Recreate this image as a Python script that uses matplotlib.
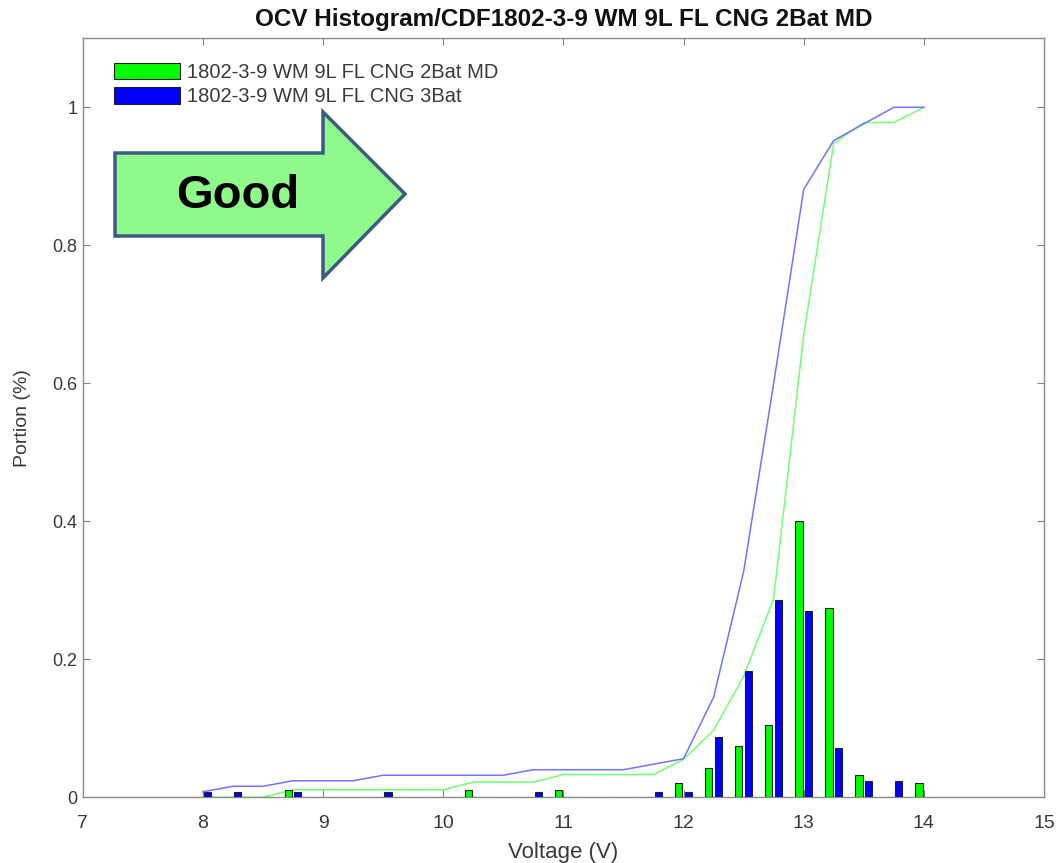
import numpy as np
import matplotlib
matplotlib.use("Agg")
import matplotlib.pyplot as plt
from matplotlib.patches import Polygon

plt.rcParams['font.family'] = ['Liberation Sans', 'DejaVu Sans']

# histogram bin centres (V)
centers = [8.0, 8.25, 8.5, 8.75, 9.0, 9.25, 9.5, 9.75, 10.0, 10.25, 10.5, 10.75,
           11.0, 11.25, 11.5, 11.75, 12.0, 12.25, 12.5, 12.75, 13.0, 13.25, 13.5,
           13.75, 14.0]

# portion per bin
hist_2bat = [0, 0, 0, 0.011, 0, 0, 0, 0, 0, 0.011, 0, 0,
             0.011, 0, 0, 0, 0.021, 0.042, 0.074, 0.105, 0.40, 0.275, 0.033,
             0, 0.021]
hist_3bat = [0.008, 0.008, 0, 0.008, 0, 0, 0.008, 0, 0, 0, 0, 0.008,
             0, 0, 0, 0.008, 0.008, 0.088, 0.183, 0.286, 0.270, 0.071, 0.024,
             0.024, 0]

# cumulative portion
cdf_2bat = [0, 0, 0, 0.011, 0.011, 0.011, 0.011, 0.011, 0.011, 0.022, 0.022, 0.022,
            0.033, 0.033, 0.033, 0.033, 0.055, 0.097, 0.175, 0.288, 0.670, 0.948, 0.978,
            0.978, 1.0]
cdf_3bat = [0.008, 0.016, 0.016, 0.024, 0.024, 0.024, 0.032, 0.032, 0.032, 0.032, 0.032, 0.040,
            0.040, 0.040, 0.040, 0.048, 0.056, 0.145, 0.327, 0.600, 0.881, 0.952, 0.976,
            1.0, 1.0]

labels = ['1802-3-9 WM 9L FL CNG 2Bat MD', '1802-3-9 WM 9L FL CNG 3Bat']
title = 'OCV Histogram/CDF1802-3-9 WM 9L FL CNG 2Bat MD'

fig = plt.figure(figsize=(10.58, 8.63), dpi=100)
ax = fig.add_axes([0.0782, 0.0761, 0.9086, 0.8795])

x = np.array(centers)
ax.plot(x, cdf_2bat, color=(0.45, 1.0, 0.45), lw=1.1, zorder=2)
ax.plot(x, cdf_3bat, color=(0.45, 0.45, 1.0), lw=1.1, zorder=2)

w = 0.06
ax.bar(x - 0.04, hist_2bat, width=w, color='#00ff00', edgecolor='#222222',
       lw=0.8, label=labels[0], zorder=3)
ax.bar(x + 0.04, hist_3bat, width=w, color='#0000ff', edgecolor='#222222',
       lw=0.8, label=labels[1], zorder=3)

ax.set_xlim(7, 15)
ax.set_ylim(0, 1.1)
ax.set_xticks(range(7, 16))
ax.set_yticks([0, 0.2, 0.4, 0.6, 0.8, 1.0])
ax.set_yticklabels(['0', '0.2', '0.4', '0.6', '0.8', '1'])
ax.tick_params(direction='in', top=True, right=True, length=5, width=0.8,
               color='#808080', labelcolor='#3a3a3a')
ax.tick_params(axis='x', labelsize=14, pad=13)
ax.tick_params(axis='y', labelsize=13, pad=4)
for s in ax.spines.values():
    s.set_color('#8c8c8c')
    s.set_linewidth(1.0)

ax.set_xlabel('Voltage (V)', fontsize=16, color='#3a3a3a', labelpad=7)
ax.set_ylabel('Portion (%)', fontsize=14, color='#3a3a3a', labelpad=15)
ax.set_title(title, fontsize=17.5, fontweight='bold', color='#111111', pad=9)

leg = ax.legend(loc='upper left', bbox_to_anchor=(0.0326, 0.968), frameon=False,
                fontsize=14.5, handlelength=3.28, handleheight=0.9,
                handletextpad=0.35, labelspacing=0.25, borderpad=0, borderaxespad=0)
for t in leg.get_texts():
    t.set_color('#3a3a3a')

# "Good" block arrow in figure pixel space
W, H = 1058.0, 863.0
pts = [(115, 153), (323, 153), (323, 112), (405, 194), (323, 278), (323, 236), (115, 236)]
pts = [(px / W, 1 - py / H) for px, py in pts]
arrow = Polygon(pts, closed=True, transform=fig.transFigure, facecolor='#8ff98c',
                edgecolor='#3d5a85', lw=2.5, zorder=10)
fig.patches.append(arrow)
fig.text(238 / W, 1 - 196 / H, 'Good', ha='center', va='center', fontsize=34,
         fontweight='bold', color='black', zorder=11)

fig.savefig('out.png', dpi=100)
